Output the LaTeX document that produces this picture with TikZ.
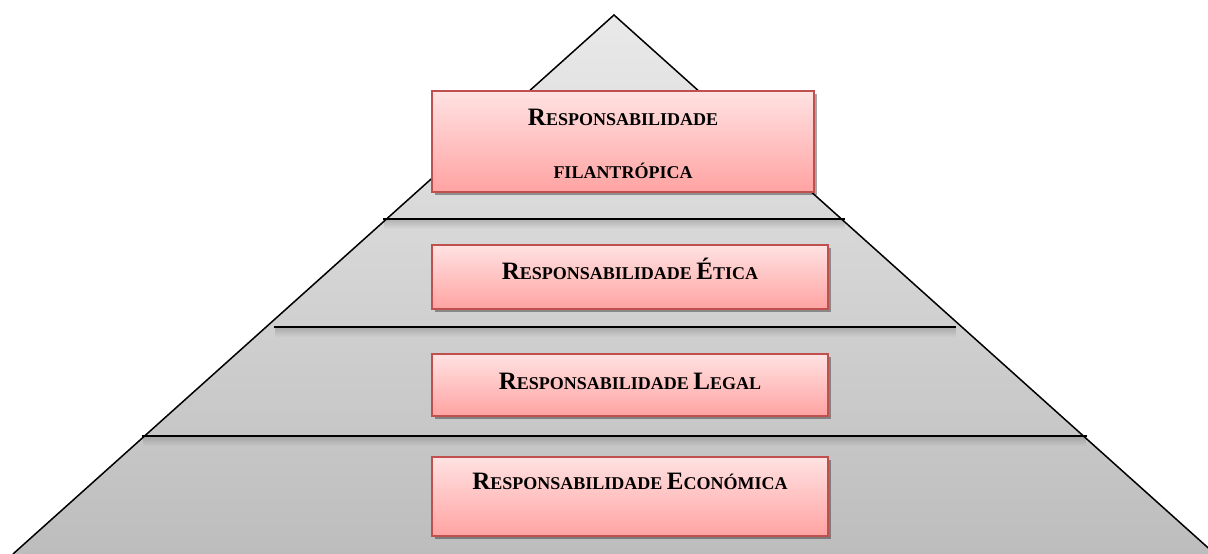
\documentclass[tikz,border=0pt]{standalone}
\usepackage{fontspec}
\setmainfont{Liberation Serif}
\usetikzlibrary{shadows,fadings}
\tikzfading[name=fadedown, top color=transparent!0, bottom color=transparent!100]
\newcommand{\bigcapltr}[1]{{\fontsize{25}{25}\selectfont #1}}
\newcommand{\smlcapltr}[1]{{\fontsize{18}{18}\selectfont #1}}
\definecolor{boxborder}{HTML}{C0504D}
\definecolor{boxtop}{HTML}{FFE2E2}
\definecolor{boxbot}{HTML}{FFA3A2}
\definecolor{pyrtop}{HTML}{E9E9E9}
\definecolor{pyrbot}{HTML}{BDBDBD}
\begin{document}
\begin{tikzpicture}[x=1pt,y=-1pt,
  rbox/.style={draw=boxborder, line width=1.4pt, top color=boxtop, bottom color=boxbot,
    drop shadow={shadow xshift=2.5pt, shadow yshift=-3pt, opacity=0.35, fill=black}},
  lbl/.style={anchor=base, font=\bfseries, inner sep=0pt},
  edge/.style={line width=1.5pt, black},
  sep/.style={line width=1.7pt, black},
  sepshadow/.style={fill=black, opacity=0.18, path fading=fadedown}]
\useasboundingbox (0,0) rectangle (1208,554);
\begin{scope}
\clip (0,0) rectangle (1208,554);
\coordinate (apex) at (614,15);
\coordinate (bl) at (13,554);
\coordinate (br) at (1215,554);
\shade[top color=pyrtop, bottom color=pyrbot] (apex) -- (bl) -- (br) -- cycle;
% separator shadows
\fill[sepshadow] (384,219) rectangle (845,229);
\fill[sepshadow] (275,327) rectangle (956,337);
\fill[sepshadow] (143,436) rectangle (1086,446);
\draw[edge] (bl) -- (apex) -- (br);
\draw[sep] (383,219) -- (845,219);
\draw[sep] (274,327) -- (956,327);
\draw[sep] (142,436) -- (1087,436);
\end{scope}
% boxes
\node[rbox, minimum width=382pt, minimum height=101pt, inner sep=0pt] (b1) at (623,141.5) {};
\node[rbox, minimum width=396pt, minimum height=64pt, inner sep=0pt] (b2) at (630,277) {};
\node[rbox, minimum width=396pt, minimum height=62pt, inner sep=0pt] (b3) at (630,385) {};
\node[rbox, minimum width=396pt, minimum height=79pt, inner sep=0pt] (b4) at (630,496.5) {};
% labels
\node[lbl] (t1a) at (623,125) {\bigcapltr{R}\smlcapltr{ESPONSABILIDADE}};
\node[lbl] (t1b) at (623,178) {\smlcapltr{FILANTRÓPICA}};
\node[lbl] (t2) at (630,279) {\bigcapltr{R}\smlcapltr{ESPONSABILIDADE }\bigcapltr{É}\smlcapltr{TICA}};
\node[lbl] (t3) at (630,389) {\bigcapltr{R}\smlcapltr{ESPONSABILIDADE }\bigcapltr{L}\smlcapltr{EGAL}};
\node[lbl] (t4) at (630,489) {\bigcapltr{R}\smlcapltr{ESPONSABILIDADE }\bigcapltr{E}\smlcapltr{CONÓMICA}};
\end{tikzpicture}
\end{document}
